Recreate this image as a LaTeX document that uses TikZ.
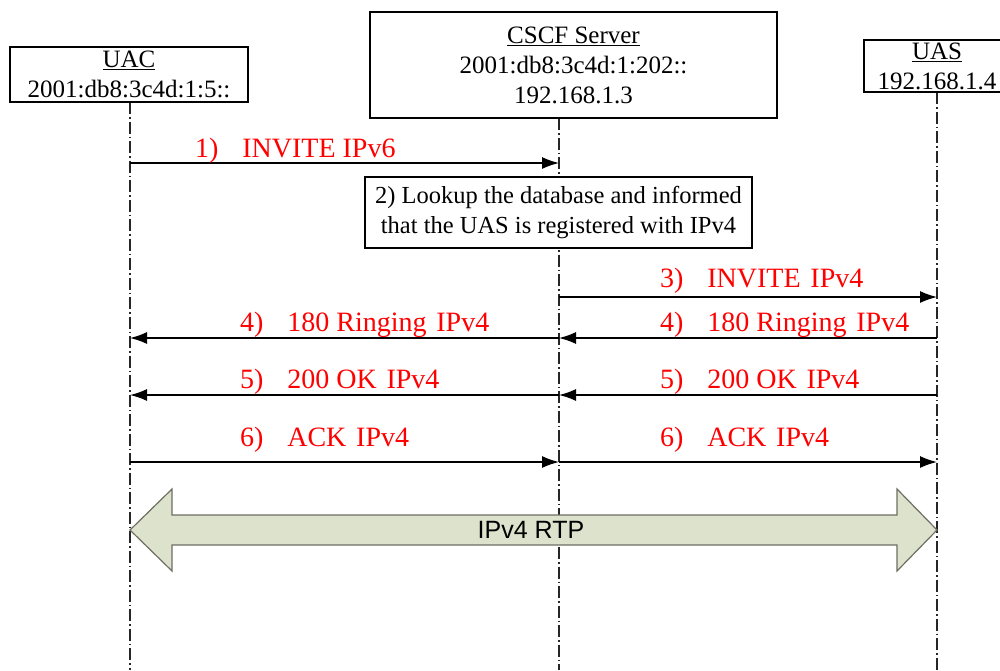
\documentclass[tikz,border=0pt]{standalone}
\usepackage{fontspec}
\setmainfont{Liberation Serif}
\newfontfamily\arialfont{Liberation Sans}
\usetikzlibrary{arrows.meta,positioning}
\definecolor{rtpfill}{RGB}{221,226,204}
\definecolor{rtpdraw}{RGB}{110,110,100}
\tikzset{
  entity/.style={draw,line width=1.4pt,fill=white,align=center,inner sep=0pt,
                 font=\fontsize{25}{30}\selectfont},
  lifeline/.style={draw=black!85,line width=1.1pt,dash pattern=on 12pt off 3pt on 1.5pt off 3pt},
  msg/.style={line width=1.4pt,-{Latex[length=17pt,width=12pt]}},
  msglabel/.style={text=red,anchor=base west,inner sep=0pt,font=\fontsize{28}{32}\selectfont},
}
\newcommand{\gapnum}{\hspace{0.85em}}
\newcommand{\gapw}{\hspace{0.35em}}
\begin{document}
\begin{tikzpicture}[x=1pt,y=-1pt]
\useasboundingbox (0,0) rectangle (1000,670);

% lifelines
\coordinate (uac-end) at (130,670);
\coordinate (cscf-end) at (559,670);
\coordinate (uas-end) at (937,670);
\draw[lifeline] (130,102) -- (uac-end);
\draw[lifeline] (559,118) -- (cscf-end);
\draw[lifeline] (937,92) -- (uas-end);

% entities
\node[entity,minimum width=238pt,minimum height=55pt] (uac) at (129,74.5)
  {\underline{UAC}\\2001:db8:3c4d:1:5::};
\node[entity,minimum width=407pt,minimum height=106pt] (cscf) at (573.5,65)
  {\underline{CSCF Server}\\2001:db8:3c4d:1:202::\\192.168.1.3};
\node[entity,minimum width=146pt,minimum height=52pt] (uas) at (937,66)
  {\underline{UAS}\\192.168.1.4};

% message rows
\foreach \n/\y in {m1/163,m3/297,m4/338,m5/395,m6/462}{
  \coordinate (uac-\n) at (130,\y);
  \coordinate (cscf-\n) at (559,\y);
  \coordinate (uas-\n) at (937,\y);
}

\draw[msg] (uac-m1) -- (cscf-m1);
\node[msglabel] (l1) at (195,157) {1)\gapnum INVITE IPv6};

\node[entity,minimum width=387pt,minimum height=71pt,font=\fontsize{24.5}{30}\selectfont]
  (lookup) at (558.5,212.5)
  {2) Lookup the database and informed\\that the UAS is registered with IPv4};

\draw[msg] (cscf-m3) -- (uas-m3);
\node[msglabel] (l3) at (660,287) {3)\gapnum INVITE\gapw IPv4};

\draw[msg] (uas-m4) -- (cscf-m4);
\draw[msg] (cscf-m4) -- (uac-m4);
\node[msglabel] (l4r) at (660,331) {4)\gapnum 180 Ringing\gapw IPv4};
\node[msglabel] (l4l) at (240,331) {4)\gapnum 180 Ringing\gapw IPv4};

\draw[msg] (uas-m5) -- (cscf-m5);
\draw[msg] (cscf-m5) -- (uac-m5);
\node[msglabel] (l5r) at (660,388) {5)\gapnum 200 OK\gapw IPv4};
\node[msglabel] (l5l) at (240,388) {5)\gapnum 200 OK\gapw IPv4};

\draw[msg] (uac-m6) -- (cscf-m6);
\draw[msg] (cscf-m6) -- (uas-m6);
\node[msglabel] (l6l) at (240,446) {6)\gapnum ACK\gapw IPv4};
\node[msglabel] (l6r) at (660,446) {6)\gapnum ACK\gapw IPv4};

% media path
\draw[fill=rtpfill,draw=rtpdraw,line width=1.2pt]
  (130,530) -- (172,489) -- (172,515) -- (897,515) -- (897,489) -- (937,530)
  -- (897,571) -- (897,545) -- (172,545) -- (172,571) -- cycle;
\node[font=\arialfont\fontsize{25}{28}\selectfont] (rtp) at (531,530) {IPv4 RTP};
\end{tikzpicture}
\end{document}
